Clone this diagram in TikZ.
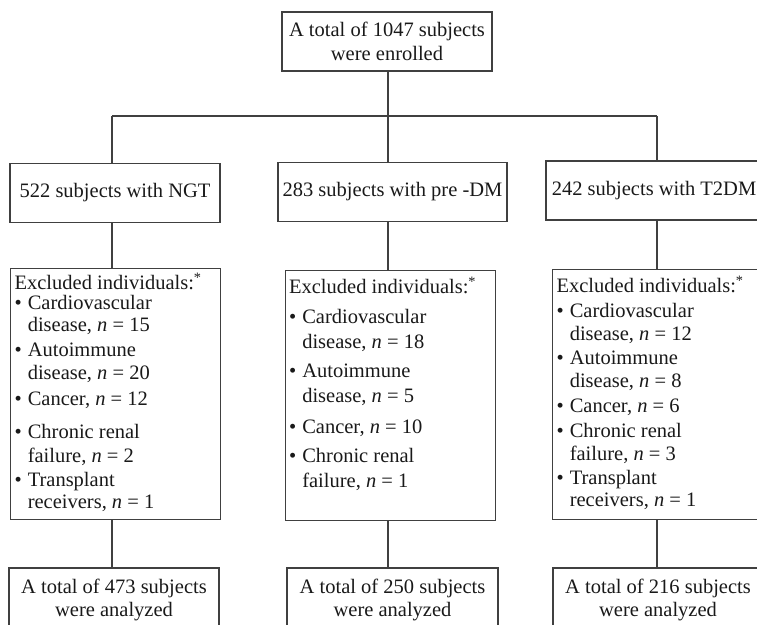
\documentclass[tikz,border=0pt]{standalone}
\usepackage{fontspec}
\setmainfont{Liberation Serif}

\begin{document}
\begin{tikzpicture}[
    x=1pt, y=-1pt,
    every node/.style={font=\fontsize{20.5}{23.5}\selectfont, text=black!90},
    box/.style={draw=black!75, line width=1.2pt, inner sep=0pt, align=center},
    group/.style={box, minimum height=59pt},
    total/.style={box, minimum width=210pt, minimum height=64pt},
    excl/.style={draw=black!75, line width=1.2pt, inner xsep=4pt, inner ysep=0pt,
                 anchor=north west},
    link/.style={draw=black!75, line width=1.2pt}
]
\useasboundingbox (0,0) rectangle (757,624);

% --- Enrolment (top) ---
\node[box, minimum width=210pt, minimum height=59pt] (enr) at (387,41.5)
    {A total of 1047 subjects\\were enrolled};

% --- Groups ---
\node[group, minimum width=210pt] (ngt)   at (115,193)   {522 subjects with NGT};
\node[group, minimum width=229pt] (predm) at (392.5,192) {283 subjects with pre -DM};
\node[group, minimum width=216pt] (t2dm)  at (654,190.5) {242 subjects with T2DM};

% --- Exclusions ---
\node[excl, text height=21pt, text depth=230pt] (exl) at (10,268) {\makebox[202pt][l]{%
  \begin{tabular}[t]{@{}l@{\hspace{6pt}}l@{}}
  \multicolumn{2}{@{}l@{}}{Excluded individuals:\textsuperscript{*}}\\[-3.5pt]
  \textbullet & Cardiovascular\\[-1.5pt]
              & disease, \textit{n} = 15\\[1.5pt]
  \textbullet & Autoimmune\\[-0.5pt]
              & disease, \textit{n} = 20\\[2.5pt]
  \textbullet & Cancer, \textit{n} = 12\\[9.5pt]
  \textbullet & Chronic renal\\[0.5pt]
              & failure, \textit{n} = 2\\[0.5pt]
  \textbullet & Transplant\\[-1.5pt]
              & receivers, \textit{n} = 1
  \end{tabular}}};

\node[excl, text height=23pt, text depth=227pt] (exm) at (284.5,270) {\makebox[202.5pt][l]{%
  \begin{tabular}[t]{@{}l@{\hspace{6pt}}l@{}}
  \multicolumn{2}{@{}l@{}}{Excluded individuals:\textsuperscript{*}}\\[6.5pt]
  \textbullet & Cardiovascular\\[1.5pt]
              & disease, \textit{n} = 18\\[5.5pt]
  \textbullet & Autoimmune\\[1.5pt]
              & disease, \textit{n} = 5\\[7.5pt]
  \textbullet & Cancer, \textit{n} = 10\\[5.5pt]
  \textbullet & Chronic renal\\[1.5pt]
              & failure, \textit{n} = 1
  \end{tabular}}};

\node[excl, text height=23pt, text depth=227pt] (exr) at (552,269) {\makebox[202pt][l]{%
  \begin{tabular}[t]{@{}l@{\hspace{6pt}}l@{}}
  \multicolumn{2}{@{}l@{}}{Excluded individuals:\textsuperscript{*}}\\[1.5pt]
  \textbullet & Cardiovascular\\[-0.5pt]
              & disease, \textit{n} = 12\\[0.5pt]
  \textbullet & Autoimmune\\[-0.5pt]
              & disease, \textit{n} = 8\\[1.5pt]
  \textbullet & Cancer, \textit{n} = 6\\[1.5pt]
  \textbullet & Chronic renal\\[-0.5pt]
              & failure, \textit{n} = 3\\[0.5pt]
  \textbullet & Transplant\\[-1.5pt]
              & receivers, \textit{n} = 1
  \end{tabular}}};

% --- Analysed totals ---
\node[total] (fl) at (114,600)   {A total of 473 subjects\\were analyzed};
\node[total, minimum width=211pt] (fm) at (392.5,600) {A total of 250 subjects\\were analyzed};
\node[total] (fr) at (658,600)   {A total of 216 subjects\\were analyzed};

% --- Branching ---
\coordinate (jl) at (112,116);
\coordinate (jm) at (388,116);
\coordinate (jr) at (657,116);

\draw[link] (jm |- enr.south) -- (jm |- predm.north);
\draw[link] (jl) -- (jr);
\draw[link] (jl) -- (jl |- ngt.north);
\draw[link] (jr) -- (jr |- t2dm.north);

% --- Columns ---
\draw[link] (jl |- ngt.south)   -- (jl |- exl.north);
\draw[link] (jm |- predm.south) -- (jm |- exm.north);
\draw[link] (jr |- t2dm.south)  -- (jr |- exr.north);

\draw[link] (jl |- exl.south) -- (jl |- fl.north);
\draw[link] (jm |- exm.south) -- (jm |- fm.north);
\draw[link] (jr |- exr.south) -- (jr |- fr.north);

\end{tikzpicture}
\end{document}
